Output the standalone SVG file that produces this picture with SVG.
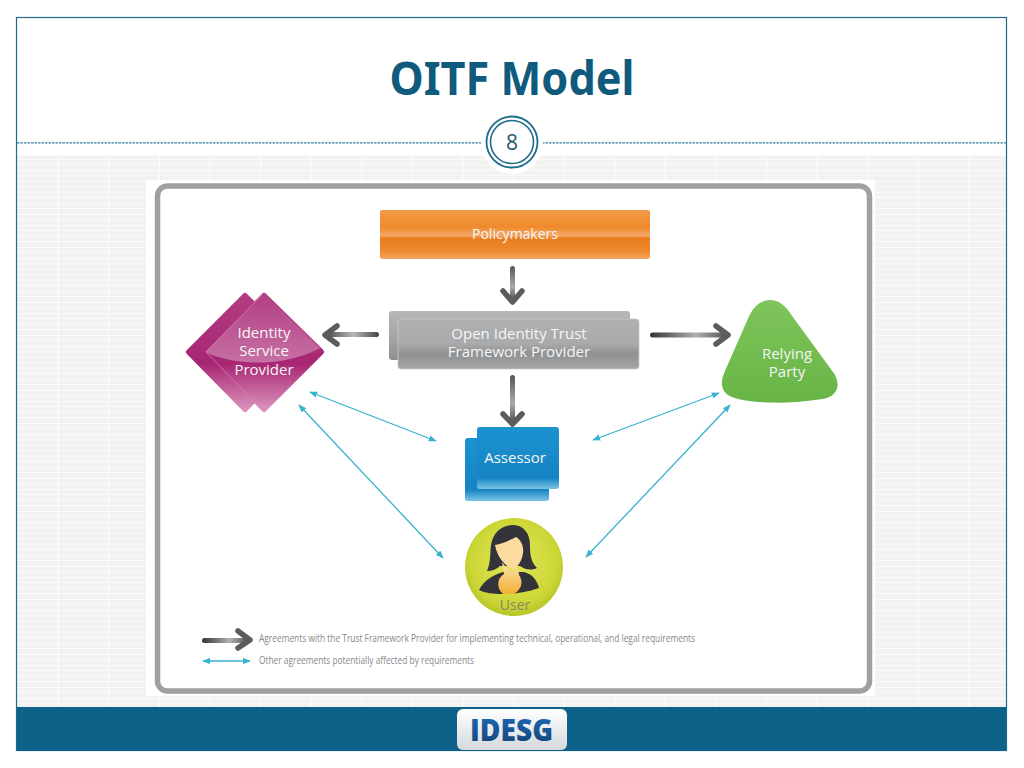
<svg xmlns="http://www.w3.org/2000/svg" width="1024" height="768" viewBox="0 0 1024 768">
<style>
.lbl{font-family:"Open Sans","Liberation Sans",sans-serif;font-weight:500;text-anchor:middle;fill:#f6f6f6;font-size:15px}
.legend{font-family:"Open Sans","Liberation Sans",sans-serif;font-size:10px;fill:#85898c}
.cy{stroke:#38b2cd;stroke-width:1.3;fill:none;marker-start:url(#cyS);marker-end:url(#cyE)}
.head{fill:none;stroke-width:5.5;stroke-linecap:round;stroke-linejoin:round}
</style>
<defs>
<pattern id="grid" width="50.6" height="11" patternUnits="userSpaceOnUse" x="7" y="156">
<rect width="50.6" height="11" fill="#f2f2f2"/>
<rect x="0" width="1" height="11" fill="#fff"/>
<rect y="3" width="50.6" height="1" fill="#fafafa"/>
<rect y="8" width="50.6" height="1" fill="#fafafa"/>
</pattern>
<marker id="cyE" viewBox="0 0 10 8" refX="9" refY="4" markerWidth="8" markerHeight="6.5" markerUnits="userSpaceOnUse" orient="auto"><path d="M0 0L10 4L0 8z" fill="#38b2cd"/></marker>
<marker id="cyS" viewBox="0 0 10 8" refX="1" refY="4" markerWidth="8" markerHeight="6.5" markerUnits="userSpaceOnUse" orient="auto"><path d="M10 0L0 4L10 8z" fill="#38b2cd"/></marker>
<linearGradient id="org" x1="0" y1="0" x2="0" y2="1"><stop offset="0" stop-color="#f29a48"/><stop offset=".35" stop-color="#f08a2c"/><stop offset=".52" stop-color="#f3a868"/><stop offset=".58" stop-color="#ea7d1c"/><stop offset=".85" stop-color="#ee8a30"/><stop offset="1" stop-color="#f4a863"/></linearGradient>
<linearGradient id="gry" x1="0" y1="0" x2="0" y2="1"><stop offset="0" stop-color="#b5b7b8"/><stop offset=".55" stop-color="#a2a4a6"/><stop offset="1" stop-color="#8e9092"/></linearGradient>
<linearGradient id="gry2" x1="0" y1="0" x2="0" y2="1"><stop offset="0" stop-color="#aeb0b1"/><stop offset=".5" stop-color="#a8aaac"/><stop offset=".7" stop-color="#8f9193"/><stop offset="1" stop-color="#a4a6a8"/></linearGradient>
<linearGradient id="mag" x1="0" y1="0" x2="0" y2="1"><stop offset="0" stop-color="#b23c82"/><stop offset=".6" stop-color="#a82672"/><stop offset="1" stop-color="#d992bb"/></linearGradient>
<linearGradient id="gloss" x1="0" y1="0" x2="0" y2="1"><stop offset="0" stop-color="#b23c82"/><stop offset="1" stop-color="#c670a4"/></linearGradient>
<linearGradient id="grn" x1="0" y1="0" x2="0" y2="1"><stop offset="0" stop-color="#7dc45a"/><stop offset="1" stop-color="#69b547"/></linearGradient>
<linearGradient id="blu" x1="0" y1="0" x2="0" y2="1"><stop offset="0" stop-color="#1d92d0"/><stop offset=".82" stop-color="#1584c4"/><stop offset="1" stop-color="#7cc4e6"/></linearGradient>
<radialGradient id="yel" cx=".5" cy=".45" r=".55"><stop offset="0" stop-color="#e0e85a"/><stop offset=".8" stop-color="#cdd636"/><stop offset="1" stop-color="#b7c528"/></radialGradient>
<linearGradient id="face" x1="0" y1="0" x2="0" y2="1"><stop offset="0" stop-color="#fbe3b0"/><stop offset="1" stop-color="#f4ae34"/></linearGradient>
<linearGradient id="arH" x1="0" y1="0" x2="1" y2="0"><stop offset="0" stop-color="#333"/><stop offset=".6" stop-color="#b0b0b0"/><stop offset="1" stop-color="#555"/></linearGradient>
<linearGradient id="arL" x1="0" y1="0" x2="1" y2="0"><stop offset="0" stop-color="#555"/><stop offset=".5" stop-color="#b8b8b8"/><stop offset="1" stop-color="#444"/></linearGradient>
<linearGradient id="arV" x1="0" y1="0" x2="0" y2="1"><stop offset="0" stop-color="#555"/><stop offset=".6" stop-color="#aaa"/><stop offset="1" stop-color="#555"/></linearGradient>
<linearGradient id="ide" x1="0" y1="0" x2="0" y2="1"><stop offset="0" stop-color="#1f6fc0"/><stop offset="1" stop-color="#123f6e"/></linearGradient>
<linearGradient id="btn" x1="0" y1="0" x2="0" y2="1"><stop offset="0" stop-color="#fff"/><stop offset="1" stop-color="#d4d9de"/></linearGradient>
<clipPath id="dia"><path d="M264 293L205 352L264 412L324 352Z"/></clipPath>
</defs>

<rect width="1024" height="768" fill="#fff"/>
<rect x="17" y="156" width="989" height="551" fill="url(#grid)"/>
<rect x="16.5" y="17.5" width="990" height="733" fill="none" stroke="#1d6a8a" stroke-width="1.2"/>
<rect x="17" y="707" width="989" height="44" fill="#0e6189"/>
<line x1="17" y1="142.8" x2="1006" y2="142.8" stroke="#2f7f9f" stroke-width="1.2" stroke-dasharray="2.5 1"/>

<g id="title">
<text x="512" y="95" font-family="'Noto Sans','Open Sans',sans-serif" font-weight="700" font-size="46" fill="#0f5a7d" text-anchor="middle" textLength="245" lengthAdjust="spacingAndGlyphs">OITF Model</text>
</g>
<g id="page-number">
<circle cx="512" cy="143" r="31" fill="#fff"/>
<circle cx="512" cy="142" r="25.5" fill="#fff" stroke="#1d6a8a" stroke-width="1.8"/>
<circle cx="512" cy="142" r="21.5" fill="#fff" stroke="#1d6a8a" stroke-width="1.6"/>
<text x="512" y="150" font-family="'Open Sans',sans-serif" font-size="21" fill="#1f5a72" text-anchor="middle">8</text>
</g>

<g id="panel">
<rect x="146" y="180" width="729" height="516" fill="#fff"/>
<rect x="157.500" y="186" width="712" height="505" rx="10" fill="#fff" stroke="#a0a0a0" stroke-width="5.500"/>
</g>

<g id="connectors">
<rect x="510" y="266" width="5" height="34" rx="2.500" fill="url(#arV)"/>
<path class="head" stroke="#5c5c5c" d="M503 291L512.500 302L522 291"/>
<rect x="328" y="332" width="51" height="5" rx="2.500" fill="url(#arL)"/>
<path class="head" stroke="#5c5c5c" d="M337 326L325 335L337 344"/>
<rect x="650" y="332.500" width="76" height="5" rx="2.500" fill="url(#arH)"/>
<path class="head" stroke="#5c5c5c" d="M716 326L728 335L716 344"/>
<rect x="510" y="375" width="5" height="47" rx="2.500" fill="url(#arV)"/>
<path class="head" stroke="#5c5c5c" d="M503 414L512.500 424L522 414"/>
<line class="cy" x1="310" y1="392" x2="436" y2="441"/>
<line class="cy" x1="299" y1="405" x2="443" y2="558"/>
<line class="cy" x1="593" y1="440" x2="719" y2="393"/>
<line class="cy" x1="586" y1="557" x2="730" y2="405"/>
</g>

<g id="policymakers">
<rect x="380" y="210" width="270" height="49" rx="2" fill="url(#org)"/>
<text class="lbl" x="515" y="239" style="font-size:14px">Policymakers</text>
</g>

<g id="trust-framework-provider">
<rect x="389" y="311" width="241" height="49" rx="3" fill="url(#gry)"/>
<rect x="398" y="319" width="241" height="50" rx="3" fill="url(#gry2)" stroke="#c8c9ca" stroke-width=".8"/>
<text class="lbl" x="519" y="339">Open Identity Trust</text>
<text class="lbl" x="519" y="357">Framework Provider</text>
</g>

<g id="identity-service-provider">
<path d="M245 296L189 352L245 409L301 352Z" fill="url(#mag)" stroke="url(#mag)" stroke-width="6" stroke-linejoin="round"/>
<path d="M264 296L208 352L264 409L321 352Z" fill="url(#mag)" stroke="url(#mag)" stroke-width="6" stroke-linejoin="round"/>
<path clip-path="url(#dia)" d="M264 290L205 352C240 368 290 366 326 345L300 310Z" fill="url(#gloss)"/>
<path d="M262 295L206 352L262 410" fill="none" stroke="#d58cb8" stroke-width="1" opacity=".7"/>
<text class="lbl" x="264" y="338">Identity</text>
<text class="lbl" x="264" y="356">Service</text>
<text class="lbl" x="264" y="375">Provider</text>
</g>

<g id="relying-party">
<path d="M770 304C777 304 783 309 788 317L831 376C837 386 832 394 822 395C790 400 755 400 735 394C725 391 724 383 728 374L753 317C757 309 763 304 770 304Z" fill="url(#grn)" stroke="url(#grn)" stroke-width="8" stroke-linejoin="round"/>
<text class="lbl" x="787" y="359">Relying</text>
<text class="lbl" x="787" y="377">Party</text>
</g>

<g id="assessor">
<rect x="465" y="438" width="84" height="63" rx="3" fill="url(#blu)"/>
<rect x="477" y="427" width="82" height="62" rx="3" fill="url(#blu)"/>
<text class="lbl" x="515" y="463">Assessor</text>
</g>

<g id="user">
<circle cx="514" cy="567" r="49" fill="url(#yel)"/>
<path d="M479 590C484 580 493 575 503 572H524C532 574 537 580 539 588C528 592 515 594 502 594C493 594 485 593 479 590Z" fill="#33343a"/>
<path d="M487 571C491 562 490 552 491 545C493 532 502 525 513 525C524 525 530 534 530 545C530 555 531 562 537 568C530 571 524 569 520 566L500 566C497 569 492 571 487 571Z" fill="#33343a"/>
<path d="M495 545C502 544 510 540 516 537C521 540 524 546 523 553C522 561 518 566 514 570C510 568 498 562 495 545Z" fill="#fbdc9e"/>
<path d="M502 562C506 568 510 572 514 572L518 568L519 575C524 582 521 590 514 594H503C496 588 497 578 504 574Z" fill="url(#face)"/>
<text x="515" y="610" font-family="'Open Sans',sans-serif" font-weight="400" font-size="14" fill="#85875c" text-anchor="middle">User</text>
</g>

<g id="legend">
<rect x="202" y="638" width="46" height="5" rx="2.500" fill="url(#arH)"/>
<path class="head" stroke="#5c5c5c" d="M238 631L250 640L238 648"/>
<line class="cy" x1="203" y1="661" x2="250" y2="661"/>
<text class="legend" x="259" y="642" textLength="436" lengthAdjust="spacingAndGlyphs">Agreements with the Trust Framework Provider for implementing technical, operational, and legal requirements</text>
<text class="legend" x="259" y="664" textLength="215" lengthAdjust="spacingAndGlyphs">Other agreements potentially affected by requirements</text>
</g>

<g id="idesg-logo">
<rect x="457" y="709" width="110" height="41" rx="6" fill="url(#btn)"/>
<text x="511.500" y="741" font-family="'Open Sans',sans-serif" font-weight="800" font-size="30" fill="url(#ide)" text-anchor="middle" textLength="83" lengthAdjust="spacingAndGlyphs">IDESG</text>
</g>
</svg>
